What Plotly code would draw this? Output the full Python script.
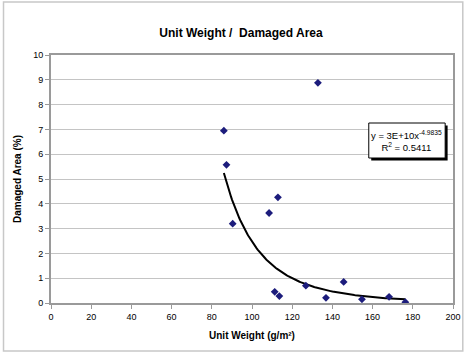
import numpy as np
import plotly.graph_objects as go

# Unit weight (g/m²) and damaged area (%) per sample
unit_weight = [86.0, 87.3, 90.4, 108.5, 112.9, 111.3, 113.6, 126.8, 132.8,
               136.8, 145.6, 154.7, 168.2, 176.3]
damaged_area = [6.95, 5.57, 3.20, 3.63, 4.26, 0.45, 0.28, 0.70, 8.88,
                0.21, 0.85, 0.15, 0.25, 0.03]

x_ticks = [0, 20, 40, 60, 80, 100, 120, 140, 160, 180, 200]
y_ticks = [0, 1, 2, 3, 4, 5, 6, 7, 8, 9, 10]

# Power trend line y = a * x^b (exponent as reported on the chart)
trend_exponent = -4.9835
trend_r2 = 0.5411
equation_text = "y = 3E+10x<sup>%.4f</sup>" % trend_exponent
r2_text = "R<sup>2</sup> = %.4f" % trend_r2

xa = np.array(unit_weight)
ya = np.array(damaged_area)
# coefficient fitted in log space for the given exponent
ln_a = np.mean(np.log(ya) - trend_exponent * np.log(xa))
xs = np.linspace(xa.min(), xa.max(), 200)
ys = np.exp(ln_a) * xs ** trend_exponent

W, H = 473, 353
ml, mr, mt, mb = 50.5, 12, 55, 50
pw, ph = W - ml - mr, H - mt - mb


def paper_x(px):
    return (px - ml) / pw


def paper_y(py):
    return 1 - (py - mt) / ph


fig = go.Figure()
fig.add_trace(go.Scatter(
    x=xs, y=ys, mode="lines",
    line=dict(color="black", width=2),
    hoverinfo="skip", showlegend=False,
))
fig.add_trace(go.Scatter(
    x=unit_weight, y=damaged_area, mode="markers",
    marker=dict(symbol="diamond", size=6, color="#1c1c7c"),
    showlegend=False,
))

font = "Arial, 'Liberation Sans', sans-serif"

fig.update_layout(
    width=W, height=H,
    margin=dict(l=ml, r=mr, t=mt, b=mb),
    paper_bgcolor="white", plot_bgcolor="white",
    font=dict(family=font, color="black"),
    title=dict(text="<b>Unit Weight /\u00a0 Damaged Area</b>",
               x=241 / W, xanchor="center",
               y=1 - 33 / H, yanchor="middle",
               font=dict(size=12, family=font, color="black")),
)

fig.update_xaxes(
    range=[0, 200], tickvals=x_ticks, ticktext=[str(v) for v in x_ticks],
    showgrid=False, zeroline=False,
    showline=True, linecolor="#9a9a9a", linewidth=2, mirror=True,
    ticks="outside", ticklen=4, tickcolor="#9a9a9a", tickwidth=1,
    tickfont=dict(size=9, family=font, color="black"),
    title=dict(text="<b>Unit Weight (g/m²)</b>", standoff=11,
               font=dict(size=10, family=font, color="black")),
)
fig.update_yaxes(
    range=[0, 10], tickvals=y_ticks, ticktext=[str(v) for v in y_ticks],
    showgrid=True, gridcolor="#c4c4c4", gridwidth=1, zeroline=False,
    showline=True, linecolor="#9a9a9a", linewidth=2, mirror=True,
    ticks="outside", ticklen=4, tickcolor="#9a9a9a", tickwidth=1,
    tickfont=dict(size=9, family=font, color="black"),
    title=dict(text="<b>Damaged Area (%)</b>", standoff=10,
               font=dict(size=10, family=font, color="black")),
)

# Equation label: shadow, white box, then the text
bx0, by0, bx1, by1 = 375, 123, 453, 158
fig.add_shape(type="rect", xref="paper", yref="paper",
              x0=paper_x(bx0 + 2.5), x1=paper_x(bx1 + 2.5),
              y0=paper_y(by1 + 2.5), y1=paper_y(by0 + 2.5),
              fillcolor="black", line=dict(width=0))
fig.add_shape(type="rect", xref="paper", yref="paper",
              x0=paper_x(bx0), x1=paper_x(bx1),
              y0=paper_y(by1), y1=paper_y(by0),
              fillcolor="white", line=dict(color="black", width=1))
fig.add_annotation(
    x=paper_x((bx0 + bx1) / 2), y=paper_y((by0 + by1) / 2),
    xref="paper", yref="paper", xanchor="center", yanchor="middle",
    text=equation_text + "<br>" + r2_text, showarrow=False, align="center",
    font=dict(size=9.5, family=font, color="black"),
)

# Outer chart border
fig.add_shape(
    type="rect", xref="paper", yref="paper",
    x0=paper_x(2), x1=paper_x(471), y0=paper_y(351), y1=paper_y(2),
    line=dict(color="#c8c8c8", width=1.5), layer="below",
)

fig.write_html("out.html")
